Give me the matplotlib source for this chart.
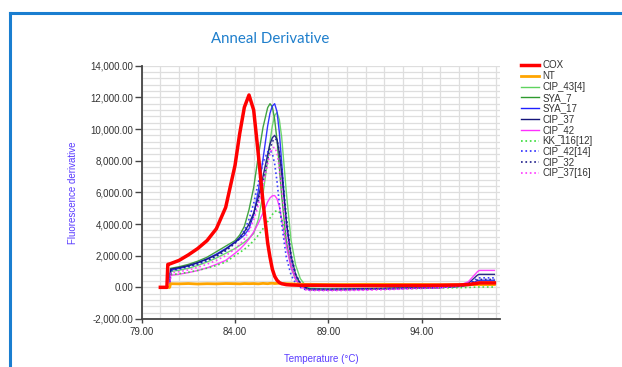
import matplotlib
matplotlib.use("Agg")
import matplotlib.pyplot as plt
from matplotlib.ticker import MultipleLocator, FixedLocator, FuncFormatter
from matplotlib.lines import Line2D

# ---- data ----
temps = [80.0, 80.35, 80.4, 80.5, 80.55, 81.0, 81.5, 82.0, 82.5, 83.0, 83.5, 84.0, 84.25, 84.5,
         84.75, 85.0, 85.25, 85.5,
         85.75, 85.875, 86.0, 86.125, 86.25, 86.375, 86.5, 86.75, 87.0, 87.25, 87.5, 87.75, 88.0,
         89.0, 90.0, 91.0, 92.0, 93.0, 94.0, 95.0, 96.0, 96.5, 97.0, 97.1, 97.9]

cox = [0, 0, 1450, 1480, 1500, 1700, 2050, 2450, 2950, 3700, 5050, 7700, 9700, 11370, 12150, 11200, 8400, 5400,
       2800, 1900, 1150, 700, 450, 300, 230, 170, 150, 140, 130, 130, 130,
       120, 110, 110, 110, 120, 120, 130, 150, 180, 260, 280, 280]
nt = [0, 0, 0, 0, 230, 220, 240, 210, 230, 220, 240, 230, 220, 240, 230, 240, 220, 250,
      230, 250, 260, 240, 250, 260, 240, 230, 220, 210, 200, 190, 190,
      180, 180, 190, 190, 180, 180, 170, 170, 170, 170, 170, 170]
cip_43_4 = [0, 0, 0, 0, 1000, 1080, 1200, 1380, 1600, 1850, 2150, 2450, 2650, 2850, 3100, 3400, 4300, 5900,
            8000, 9200, 10200, 10850, 11050, 10600, 9500, 6000, 3000, 1400, 550, 150, -50,
            -120, -120, -100, -80, -60, -40, -10, 60, 150, 380, 400, 400]
sya_7 = [0, 0, 0, 0, 1200, 1300, 1450, 1650, 1900, 2250, 2600, 2950, 3300, 3850, 4900, 6300, 8300, 10100,
         11350, 11600, 11400, 10600, 9300, 7600, 5800, 2900, 1300, 500, 150, -30, -100,
         -110, -100, -80, -60, -40, -20, 0, 60, 120, 250, 280, 280]
sya_17 = [0, 0, 0, 0, 1100, 1200, 1350, 1550, 1800, 2100, 2450, 2850, 3050, 3300, 3700, 4600, 6100, 8100,
          10200, 11000, 11450, 11600, 11100, 9800, 7900, 4000, 1800, 700, 200, 0, -120,
          -130, -120, -100, -80, -50, -30, -10, 50, 150, 420, 450, 450]
cip_37 = [0, 0, 0, 0, 1150, 1250, 1380, 1560, 1780, 2050, 2400, 2850, 3150, 3500, 4000, 4700, 5700, 7000,
          8400, 9050, 9450, 9600, 9350, 8500, 7200, 4200, 2000, 800, 250, 0, -130,
          -140, -130, -110, -80, -60, -40, -10, 80, 250, 780, 820, 820]
cip_42 = [0, 0, 0, 0, 760, 830, 930, 1060, 1230, 1450, 1700, 2150, 2400, 2700, 3050, 3500, 4050, 4700,
          5400, 5650, 5780, 5800, 5600, 5100, 4300, 2600, 1300, 500, 100, -100, -170,
          -170, -160, -140, -110, -80, -50, -20, 120, 350, 1000, 1070, 1070]
kk_116_12 = [0, 0, 0, 0, 800, 860, 950, 1070, 1210, 1380, 1600, 2000, 2200, 2400, 2650, 2950, 3300, 3700,
             4150, 4380, 4600, 4770, 4860, 4750, 4350, 3000, 1600, 650, 150, -80, -150,
             -150, -140, -120, -100, -80, -60, -40, -20, -10, 20, 20, 20]
cip_42_14 = [0, 0, 0, 0, 1050, 1150, 1280, 1450, 1680, 1950, 2300, 2800, 3150, 3600, 4300, 5300, 6600, 7900,
             8550, 8650, 8450, 7800, 6700, 5300, 4000, 1900, 800, 250, 0, -130, -160,
             -160, -150, -130, -100, -70, -40, 0, 100, 250, 570, 600, 600]
cip_32 = [0, 0, 0, 0, 1100, 1200, 1330, 1500, 1720, 1990, 2330, 2780, 3080, 3420, 3900, 4550, 5450, 6700,
          8100, 8750, 9200, 9400, 9300, 8600, 7500, 4500, 2100, 850, 250, 0, -130,
          -130, -120, -100, -80, -60, -30, 0, 80, 200, 480, 500, 500]
cip_37_16 = [0, 0, 0, 0, 900, 990, 1100, 1260, 1460, 1700, 2000, 2420, 2700, 3050, 3550, 4250, 5200, 6400,
             7800, 8450, 8800, 8850, 8500, 7500, 6200, 3500, 1600, 550, 50, -150, -200,
             -210, -200, -180, -150, -110, -70, -30, 60, 150, 330, 350, 350]

series_names = ["COX", "NT", "CIP_43[4]", "SYA_7", "SYA_17", "CIP_37", "CIP_42",
                "KK_116[12]", "CIP_42[14]", "CIP_32", "CIP_37[16]"]
series_values = [cox, nt, cip_43_4, sya_7, sya_17, cip_37, cip_42,
                 kk_116_12, cip_42_14, cip_32, cip_37_16]
x_tick_values = [79, 84, 89, 94]

# ---- styles ----
styles = [
    dict(color="#ff0000", lw=2.5, ls="-", alpha=1.0, z=5),
    dict(color="#ffa500", lw=2.0, ls="-", alpha=1.0, z=4),
    dict(color="#5fd35f", lw=1.0, ls="-", alpha=0.9, z=3),
    dict(color="#2e9a2e", lw=1.0, ls="-", alpha=0.9, z=3),
    dict(color="#1f1fff", lw=1.0, ls="-", alpha=0.9, z=3),
    dict(color="#14147a", lw=1.0, ls="-", alpha=0.9, z=3),
    dict(color="#ff2eff", lw=1.0, ls="-", alpha=0.9, z=3),
    dict(color="#33dd33", lw=1.2, ls=":", alpha=0.9, z=3),
    dict(color="#2a2aff", lw=1.2, ls=":", alpha=0.9, z=3),
    dict(color="#1c1c8a", lw=1.2, ls=":", alpha=0.9, z=3),
    dict(color="#ff33ff", lw=1.2, ls=":", alpha=0.9, z=3),
]

W, H = 622, 367
fig = plt.figure(figsize=(W / 100, H / 100), dpi=100)
fig.patch.set_facecolor("white")

# blue frame (left and top edges only visible)
frame_color = "#1a7ed0"
fig.add_artist(Line2D([10 / W, 10 / W], [-0.1, 1 - 12.5 / H], transform=fig.transFigure,
                      color=frame_color, linewidth=2.2, solid_capstyle="projecting"))
fig.add_artist(Line2D([10 / W, 1.1], [1 - 12.5 / H, 1 - 12.5 / H], transform=fig.transFigure,
                      color=frame_color, linewidth=2.2, solid_capstyle="projecting"))

ax = fig.add_axes([141.7 / W, 1 - 319 / H, (500 - 141.7) / W, (319 - 65.7) / H])

lines = {}
for name, vals, st in zip(series_names, series_values, styles):
    ln, = ax.plot(temps, vals, color=st["color"], lw=st["lw"], ls=st["ls"],
                  alpha=st["alpha"], label=name, zorder=st["z"])
    lines[name] = ln

ax.set_xlim(79, 98.2)
ax.set_ylim(-2000, 14000)

ax.xaxis.set_major_locator(FixedLocator(x_tick_values))
ax.xaxis.set_minor_locator(MultipleLocator(1))
ax.yaxis.set_major_locator(MultipleLocator(2000))
ax.yaxis.set_minor_locator(MultipleLocator(400))
ax.yaxis.set_major_formatter(FuncFormatter(lambda v, p: f"{v:,.2f}"))
ax.xaxis.set_major_formatter(FuncFormatter(lambda v, p: f"{v:.2f}"))

ax.grid(which="both", color="#dedede", linewidth=0.9)
ax.set_axisbelow(True)

for s in ["top", "right"]:
    ax.spines[s].set_visible(False)
for s in ["left", "bottom"]:
    ax.spines[s].set_color("#444444")
    ax.spines[s].set_linewidth(1.3)

font = "Liberation Sans"
ax.tick_params(axis="y", which="major", length=5, width=1, color="#444444", pad=1,
               labelsize=7, labelcolor="#333333")
ax.tick_params(axis="x", which="major", length=3, width=1, color="#444444", pad=3,
               labelsize=7, labelcolor="#333333")
ax.tick_params(which="minor", length=0)
for lab in ax.get_xticklabels() + ax.get_yticklabels():
    lab.set_fontfamily(font)

ax.set_ylabel("Fluorescence derivative", color="#5a3cff", fontsize=7, family=font, labelpad=9)
ax.set_xlabel("Temperature (°C)", color="#5a3cff", fontsize=7, family=font, labelpad=12)

fig.text(270 / W, 1 - 39 / H, "Anneal Derivative", ha="center", va="center",
         color="#1f7fcc", fontsize=10.8, family="Lato")

leg = fig.legend([lines[n] for n in series_names], series_names,
                 loc="upper left", bbox_to_anchor=(521 / W, 1 - 60.5 / H),
                 frameon=False, prop={"family": font, "size": 7},
                 handlelength=1.9, handletextpad=0.3, labelspacing=0.08,
                 borderpad=0, borderaxespad=0)
for t in leg.get_texts():
    t.set_color("#333333")
for lh in leg.get_lines():
    lh.set_alpha(1.0)

fig.savefig("out.png", dpi=100, facecolor="white")
